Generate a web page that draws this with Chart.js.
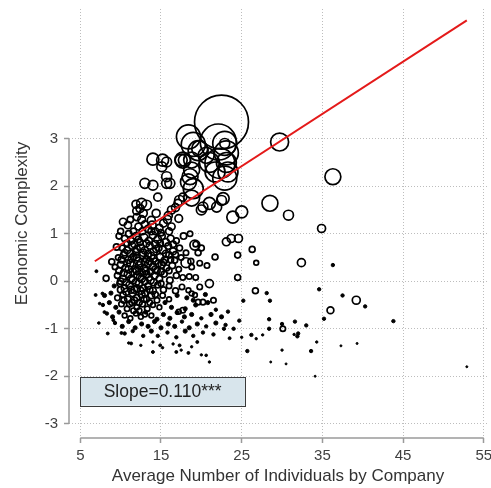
<!DOCTYPE html>
<html>
<head>
<meta charset="utf-8">
<script src="https://cdn.jsdelivr.net/npm/chart.js@4"></script>
<style>
    html, body { margin: 0; padding: 0; background: #fff; }
    #wrap { width: 491px; height: 488px; }
</style>
</head>
<body>
<div id="wrap"><canvas id="chart-complexity" width="491" height="488"></canvas></div>
<script>
// ════════════════════════════════════════
// DATA  [avg individuals by company, economic complexity, population]
// ════════════════════════════════════════

const X_TICKS = [5, 15, 25, 35, 45, 55];
const Y_TICKS = [-3, -2, -1, 0, 1, 2, 3];

const fitX = [6.8, 52.9];
const fitY = [0.42, 5.49];

const slopeLabel = 'Slope=0.110***';

const bigCircles = [
    [22.5, 3.35, 506], [22.1, 2.93, 225], [22.3, 2.48, 156], [18.4, 3.04, 100],
    [19.0, 2.88, 100], [22.9, 2.90, 100], [23.1, 2.70, 100], [22.9, 2.17, 100],
    [19.6, 2.75, 69], [23.1, 2.50, 69], [21.7, 2.30, 69], [23.3, 2.30, 69],
    [21.0, 2.50, 69], [19.0, 1.95, 69], [29.7, 2.93, 56], [20.6, 2.65, 44],
    [19.8, 2.79, 44], [17.7, 2.55, 44], [18.8, 2.55, 44], [18.8, 2.34, 44],
    [18.6, 2.20, 44], [18.4, 2.09, 44], [18.8, 1.75, 44], [36.3, 2.20, 44],
    [28.5, 1.64, 44],
];

const midCircles = [
    [22.9, 2.90, 17], [14.0, 2.57, 25], [15.2, 2.55, 25], [15.1, 2.41, 17],
    [15.7, 2.51, 17], [15.7, 2.20, 17], [15.7, 2.06, 17], [16.1, 2.06, 17],
    [13.0, 2.06, 17], [14.0, 2.02, 17], [14.6, 1.77, 11], [12.6, 1.64, 17],
    [13.2, 1.60, 17], [12.4, 1.53, 11], [12.8, 1.43, 11], [14.4, 1.43, 11],
    [13.8, 1.28, 11], [17.3, 1.70, 17], [17.1, 1.64, 11], [17.7, 1.77, 11],
    [17.5, 2.55, 25], [17.9, 2.55, 25], [20.2, 1.56, 17], [21.0, 1.64, 25],
    [21.9, 1.56, 17], [22.5, 1.70, 17], [22.7, 1.74, 25], [20.0, 1.50, 17],
    [25.0, 1.46, 25], [23.9, 1.35, 25], [30.8, 1.39, 17], [34.9, 1.11, 11],
    [23.7, 0.90, 11], [23.1, 0.83, 11], [24.6, 0.90, 11], [19.2, 0.76, 17],
    [18.1, 0.39, 17], [21.0, -0.05, 11], [32.4, 0.39, 11], [39.2, -0.40, 11],
    [36.0, -0.61, 8], [16.3, 1.50, 11], [15.9, 1.38, 11], [16.8, 1.55, 11],
    [11.9, 1.62, 11], [12.0, 1.48, 11],
];

const smallCircles = [
    [10.3, 1.25, 9], [10.9, 1.18, 9], [11.6, 1.05, 7], [12.2, 1.15, 8], [12.6, 1.30, 10],
    [13.0, 1.20, 8], [13.4, 1.10, 9], [13.9, 1.18, 11], [14.3, 1.05, 8], [14.8, 1.12, 9],
    [15.3, 1.22, 10], [15.8, 1.30, 11], [16.3, 1.15, 9], [17.2, 1.32, 10], [12.0, 1.35, 9],
    [11.2, 1.30, 7],
    [9.8, 0.95, 6], [10.5, 0.90, 7], [11.3, 0.85, 8], [11.9, 0.95, 9], [12.4, 0.82, 7],
    [12.9, 0.92, 10], [13.5, 0.85, 8], [14.0, 0.97, 9], [14.6, 0.88, 10], [15.1, 0.95, 8],
    [15.6, 0.82, 9], [16.2, 0.90, 8], [16.9, 0.85, 6], [17.8, 0.95, 7], [18.6, 1.00, 5],
    [19.3, 0.78, 5],
    [9.5, 0.72, 7], [10.2, 0.70, 6], [10.8, 0.65, 8], [11.4, 0.75, 9], [11.9, 0.62, 8],
    [12.5, 0.70, 10], [13.0, 0.65, 9], [13.6, 0.75, 8], [14.1, 0.62, 9], [14.7, 0.70, 8],
    [15.2, 0.66, 10], [15.9, 0.74, 7], [16.5, 0.63, 8], [17.3, 0.70, 6], [18.1, 0.60, 5],
    [19.6, 0.60, 6], [20.0, 0.70, 6], [26.3, 0.67, 6],
    [8.9, 0.41, 6], [9.7, 0.50, 5], [10.4, 0.55, 8], [11.0, 0.45, 9], [11.6, 0.52, 8],
    [12.2, 0.42, 10], [12.7, 0.55, 9], [13.2, 0.46, 8], [13.8, 0.53, 9], [14.3, 0.42, 7],
    [14.9, 0.50, 10], [15.5, 0.45, 8], [16.0, 0.55, 7], [16.7, 0.44, 6], [17.5, 0.50, 5],
    [18.7, 0.42, 6], [21.7, 0.51, 6], [24.5, 0.55, 6],
    [9.3, 0.30, 5], [10.0, 0.35, 7], [10.6, 0.28, 8], [11.2, 0.38, 9], [11.8, 0.25, 8],
    [12.3, 0.33, 10], [12.9, 0.27, 9], [13.4, 0.37, 8], [14.0, 0.30, 9], [14.5, 0.22, 7],
    [15.1, 0.35, 8], [15.7, 0.28, 6], [16.4, 0.33, 7], [17.2, 0.25, 5], [18.8, 0.30, 5],
    [19.8, 0.38, 5], [20.7, 0.33, 5], [26.8, 0.39, 4],
    [8.2, 0.06, 6], [9.6, 0.12, 6], [10.3, 0.05, 8], [10.9, 0.15, 9], [11.5, 0.02, 9],
    [12.1, 0.13, 10], [12.6, 0.05, 9], [13.2, 0.15, 8], [13.7, 0.02, 9], [14.2, 0.12, 8],
    [14.8, 0.05, 7], [15.4, 0.15, 6], [16.1, 0.02, 7], [16.9, 0.12, 6], [17.7, 0.08, 5],
    [18.5, 0.10, 5], [19.3, 0.08, 5], [24.5, 0.08, 6],
    [9.9, -0.05, 6], [10.5, -0.15, 8], [11.1, -0.08, 9], [11.7, -0.18, 8], [12.3, -0.05, 9],
    [12.8, -0.15, 8], [13.4, -0.10, 7], [14.0, -0.20, 8], [14.6, -0.08, 6], [15.3, -0.18, 6],
    [16.0, -0.10, 5], [16.8, -0.20, 6], [17.6, -0.12, 5], [18.4, -0.19, 4], [19.8, -0.12, 5],
    [26.7, -0.20, 6],
    [9.6, -0.35, 5], [10.3, -0.28, 6], [10.9, -0.38, 7], [11.5, -0.25, 8], [12.0, -0.35, 7],
    [12.6, -0.28, 8], [13.2, -0.38, 6], [13.8, -0.30, 7], [14.5, -0.40, 5], [15.2, -0.30, 5],
    [16.0, -0.38, 4], [18.8, -0.26, 4], [19.2, -0.29, 4], [19.6, -0.44, 5], [20.2, -0.44, 5],
    [21.5, -0.40, 5],
    [10.1, -0.48, 5], [10.8, -0.58, 5], [11.4, -0.45, 6], [12.0, -0.55, 5], [12.7, -0.48, 6],
    [13.3, -0.58, 5], [14.0, -0.50, 4], [14.8, -0.55, 4], [17.7, -0.61, 5], [17.2, -0.64, 4],
    [10.5, -0.72, 4], [11.2, -0.78, 4], [11.9, -0.68, 4], [12.5, -0.75, 4], [13.8, -0.72, 4],
    [30.1, -1.00, 5],
];

// the densest part of the cloud, between x 10 and 16
const coreCircles = [
    [10.0, 1.05, 6], [11.0, 1.00, 7], [12.7, 1.05, 8], [13.8, 1.05, 8], [15.0, 1.02, 7], [16.0, 1.05, 8],
    [10.8, 0.80, 7], [11.7, 0.78, 8], [12.2, 0.88, 7], [13.2, 0.80, 8], [14.3, 0.78, 9], [14.9, 0.80, 7],
    [16.5, 0.78, 7],
    [10.5, 0.60, 7], [11.2, 0.58, 8], [12.0, 0.68, 8], [12.8, 0.60, 9], [13.4, 0.58, 8], [14.4, 0.68, 8],
    [15.6, 0.58, 8], [16.8, 0.56, 6],
    [10.1, 0.45, 7], [10.8, 0.38, 8], [11.4, 0.48, 9], [12.0, 0.50, 8], [12.5, 0.38, 9], [13.0, 0.40, 9],
    [13.6, 0.42, 8], [14.1, 0.48, 8], [14.7, 0.38, 8], [15.3, 0.40, 7], [16.2, 0.45, 6],
    [9.8, 0.22, 7], [10.4, 0.18, 8], [11.0, 0.25, 9], [11.5, 0.20, 9], [12.0, 0.22, 9], [12.6, 0.18, 9],
    [13.1, 0.22, 8], [13.7, 0.20, 8], [14.3, 0.25, 8], [15.0, 0.20, 7], [16.0, 0.22, 6],
    [10.0, 0.00, 7], [10.7, -0.02, 8], [11.3, 0.05, 9], [11.9, -0.02, 9], [12.4, 0.08, 9], [13.0, 0.00, 8],
    [13.5, 0.08, 8], [14.1, -0.02, 8], [15.0, -0.05, 6],
    [10.0, -0.18, 7], [10.7, -0.22, 8], [11.3, -0.18, 8], [12.0, -0.15, 8], [12.5, -0.20, 8],
    [13.0, -0.25, 7], [13.6, -0.18, 7], [14.3, -0.28, 6],
    [10.4, -0.40, 6], [11.1, -0.48, 6], [11.7, -0.40, 7], [12.3, -0.45, 6], [12.9, -0.38, 6],
    [13.6, -0.45, 5], [11.6, -0.62, 5], [12.3, -0.62, 5], [13.0, -0.70, 4],
];

const dots = [
    [7.0, 0.21, 1.5], [6.9, -0.29, 1.5], [7.75, -0.26, 1.5], [7.4, -0.47, 1.2], [8.0, -0.65, 1.5],
    [8.4, -1.10, 1.5], [9.1, -0.82, 1.5], [8.0, -0.30, 3], [8.8, -0.25, 3], [9.2, -0.10, 3],
    [8.6, -0.45, 3], [9.4, -0.55, 3], [7.8, -0.50, 2],
    [15.5, -0.45, 3], [16.3, -0.55, 3], [17.0, -0.30, 3], [18.2, -0.35, 3], [19.0, -0.40, 3],
    [20.5, -0.28, 3], [18.0, -0.58, 3], [19.3, -0.50, 3], [20.8, -0.45, 3], [28.1, -0.25, 2],
    [28.5, -0.41, 2], [25.2, -0.41, 2],
    [8.3, -0.68, 2], [9.0, -0.75, 3], [9.8, -0.65, 3], [13.1, -0.65, 3], [14.5, -0.80, 3],
    [15.3, -0.70, 3], [16.1, -0.78, 3], [17.0, -0.66, 3], [17.9, -0.75, 3], [18.8, -0.70, 3],
    [20.0, -0.78, 2], [21.2, -0.70, 3], [22.5, -0.75, 3], [21.8, -0.60, 2], [23.3, -0.64, 2],
    [9.3, -0.88, 2], [10.2, -0.95, 3], [11.0, -0.85, 3], [11.8, -0.98, 3], [12.6, -0.90, 3],
    [13.4, -0.95, 3], [14.2, -0.85, 3], [15.0, -0.98, 3], [15.9, -0.90, 3], [16.7, -0.95, 3],
    [17.6, -0.85, 2], [18.5, -0.98, 3], [19.5, -0.90, 3], [20.6, -0.95, 2], [21.8, -0.88, 3],
    [23.0, -0.92, 2], [24.0, -1.00, 2], [24.7, -0.83, 2],
    [10.5, -1.10, 2], [11.5, -1.05, 2], [12.8, -1.15, 2], [13.8, -1.05, 3], [14.6, -1.15, 2],
    [15.8, -1.08, 2], [16.9, -1.18, 2], [18.0, -1.05, 3], [19.0, -1.15, 2], [20.2, -1.08, 2],
    [21.5, -1.12, 2], [22.8, -1.00, 2], [23.5, -1.20, 1.5],
    [11.0, -1.30, 1], [12.5, -1.35, 1], [14.0, -1.28, 1], [15.2, -1.40, 1], [16.5, -1.32, 1],
    [17.5, -1.45, 1], [18.8, -1.38, 1], [20.0, -1.55, 1], [21.0, -1.70, 1], [19.5, -1.28, 1.5],
    [14.0, -1.49, 1.5], [14.9, -1.35, 1.5], [16.9, -1.49, 1.5], [17.3, -1.35, 1.5], [18.4, -1.51, 1.5],
    [20.6, -1.56, 1.2], [7.3, -0.88, 1.2], [10.1, -1.09, 1.5], [11.3, -1.31, 1.5],
    [36.3, 0.34, 2], [34.6, -0.17, 2], [37.5, -0.30, 2], [40.3, -0.53, 2], [35.2, -0.79, 2],
    [43.8, -0.84, 2], [28.4, -0.80, 2], [28.4, -1.00, 2], [30.0, -0.90, 2], [31.6, -0.85, 2],
    [33.0, -0.93, 2], [32.0, -1.10, 2], [31.9, -1.16, 2], [31.5, -1.12, 1], [26.2, -1.13, 2],
    [27.6, -1.13, 1], [25.0, -1.18, 1], [26.8, -1.21, 1], [30.0, -1.45, 1], [33.6, -1.47, 2],
    [34.3, -1.28, 1], [25.7, -1.47, 2], [28.6, -1.70, 0.7], [30.5, -1.74, 0.7], [37.3, -1.36, 0.7],
    [39.3, -1.31, 0.7], [34.1, -2.00, 0.7], [52.9, -1.80, 0.7],
];

// ════════════════════════════════════════
// HELPERS
// ════════════════════════════════════════

const FONT = "'Liberation Sans', Arial, sans-serif";
const SLOPE_BOX = { x0: 5, x1: 25.4, y0: -2.02, y1: -2.62 };

const radiusFor = w => Math.max(1, 1.2 * Math.sqrt(w));

// axis lines only over the tick range + the slope label box
const framePlugin = {
    id: 'frame',
    afterDraw(chart) {
        const { ctx, chartArea, scales: { x, y } } = chart;
        ctx.save();
        ctx.strokeStyle = '#9a9a9a';
        ctx.lineWidth = 1.5;
        ctx.beginPath();
        ctx.moveTo(chartArea.left, y.getPixelForValue(Y_TICKS[0]));
        ctx.lineTo(chartArea.left, y.getPixelForValue(Y_TICKS[Y_TICKS.length - 1]));
        ctx.moveTo(x.getPixelForValue(X_TICKS[0]), chartArea.bottom);
        ctx.lineTo(x.getPixelForValue(X_TICKS[X_TICKS.length - 1]), chartArea.bottom);
        ctx.stroke();

        const bx0 = x.getPixelForValue(SLOPE_BOX.x0), bx1 = x.getPixelForValue(SLOPE_BOX.x1);
        const by0 = y.getPixelForValue(SLOPE_BOX.y0), by1 = y.getPixelForValue(SLOPE_BOX.y1);
        ctx.fillStyle = '#d8e5ec';
        ctx.fillRect(bx0, by0, bx1 - bx0, by1 - by0);
        ctx.strokeStyle = '#3a3a3a';
        ctx.lineWidth = 1;
        ctx.strokeRect(Math.round(bx0) + 0.5, Math.round(by0) + 0.5, Math.round(bx1 - bx0), Math.round(by1 - by0));
        ctx.fillStyle = '#222';
        ctx.font = `17.5px ${FONT}`;
        ctx.textAlign = 'center';
        ctx.textBaseline = 'middle';
        ctx.fillText(slopeLabel, (bx0 + bx1) / 2, (by0 + by1) / 2 + 1);
        ctx.restore();
    }
};

// ════════════════════════════════════════
// CHART
// ════════════════════════════════════════

const points = [...bigCircles, ...midCircles, ...smallCircles, ...coreCircles, ...dots]
    .map(([x, y, w]) => ({ x, y, w }));

new Chart(document.getElementById('chart-complexity'), {
    type: 'scatter',
    data: {
        datasets: [
            {
                type: 'line',
                data: fitX.map((x, i) => ({ x, y: fitY[i] })),
                borderColor: '#e41a1a',
                borderWidth: 2,
                pointRadius: 0,
                fill: false,
                order: 0,
            },
            {
                data: points,
                order: 1,
                pointStyle: 'circle',
                radius: c => radiusFor(c.raw.w),
                borderWidth: c => radiusFor(c.raw.w) < 2.2 ? 1 : 1.7,
                borderColor: '#000',
                backgroundColor: c => radiusFor(c.raw.w) < 2.2 ? '#000' : 'rgba(0,0,0,0)',
            }
        ]
    },
    options: {
        responsive: false,
        animation: false,
        events: [],
        layout: { autoPadding: false, padding: { top: 9, right: 4, left: 0, bottom: 0 } },
        plugins: { legend: { display: false }, tooltip: { enabled: false } },
        scales: {
            x: {
                type: 'linear',
                min: 3.6,
                max: 55.4,
                afterBuildTicks: s => { s.ticks = X_TICKS.map(v => ({ value: v })); },
                // fixed band height, no extra room for the edge tick labels
                afterFit: s => { s.height = 50; s.paddingLeft = 0; s.paddingRight = 0; },
                grid: { color: '#bdbdbd', tickColor: '#9a9a9a', tickWidth: 1.5, tickLength: 5, tickBorderDash: [] },
                border: { display: false, dash: [1, 2] },
                ticks: { font: { family: FONT, size: 15 }, color: '#404040', padding: 4, maxRotation: 0 },
                title: {
                    display: true,
                    text: 'Average Number of Individuals by Company',
                    font: { family: FONT, size: 17 },
                    color: '#333',
                    padding: { top: 0, bottom: 1 },
                },
            },
            y: {
                type: 'linear',
                min: -3.3,
                max: 5.73,
                afterBuildTicks: s => { s.ticks = Y_TICKS.map(v => ({ value: v })); },
                afterFit: s => { s.width = 69; s.paddingTop = 0; s.paddingBottom = 0; },
                grid: { color: '#bdbdbd', tickColor: '#9a9a9a', tickWidth: 1.5, tickLength: 5, tickBorderDash: [] },
                border: { display: false, dash: [1, 2] },
                ticks: { font: { family: FONT, size: 15 }, color: '#404040', padding: 6 },
                title: {
                    display: true,
                    text: 'Economic Complexity',
                    font: { family: FONT, size: 17 },
                    color: '#333',
                    padding: { top: 12, bottom: 0 },
                },
            }
        }
    },
    plugins: [framePlugin]
});
</script>
</body>
</html>
